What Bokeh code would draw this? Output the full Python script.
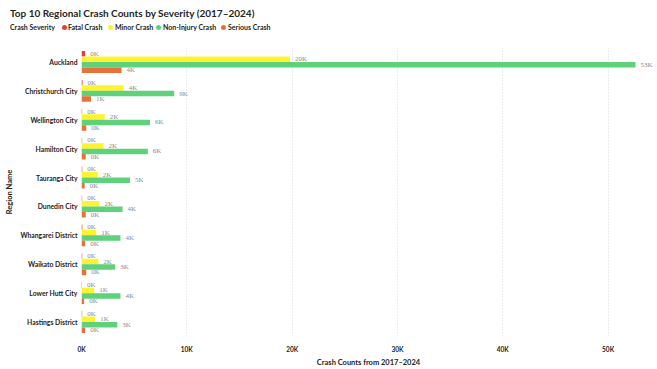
from bokeh.plotting import figure
from bokeh.layouts import column
from bokeh.models import (ColumnDataSource, FactorRange, Range1d, LabelSet, CustomJSTickFormatter, Div)
from bokeh.transform import dodge
from bokeh.embed import file_html
from bokeh.resources import INLINE

title_text = "Top 10 Regional Crash Counts by Severity (2017\u20132024)"
legend_title = "Crash Severity"
regions = ["Auckland", "Christchurch City", "Wellington City", "Hamilton City", "Tauranga City",
           "Dunedin City", "Whangarei District", "Waikato District", "Lower Hutt City", "Hastings District"]
severities = ["Fatal Crash", "Minor Crash", "Non-Injury Crash", "Serious Crash"]
fatal = [350, 100, 60, 60, 70, 60, 80, 70, 50, 60]
minor = [19800, 4000, 2200, 2100, 1550, 1700, 1400, 1600, 1200, 1300]
non_injury = [52600, 8800, 6500, 6300, 4600, 3900, 3700, 3200, 3700, 3400]
serious = [3800, 900, 450, 400, 300, 400, 350, 450, 250, 350]
colors = ["#D9404B", "#FFF22E", "#5ED17A", "#E8703A"]
x_ticks = [0, 10000, 20000, 30000, 40000, 50000]

FONT = "Lato"
DARK = "#252423"
series = [fatal, minor, non_injury, serious]
offsets = [0.284, 0.095, -0.095, -0.284]

FL, FR = 81, 2
W = 657
HH = 47

# ---------- header: title + legend as HTML ----------
dot_left = [62, 108, 156, 221]
label_left = [68, 115, 163, 228]
parts = [f'<div style="position:relative;width:{W}px;height:{HH}px;font-family:{FONT};color:{DARK};">',
         f'<div style="position:absolute;left:10px;top:7px;font-size:10px;line-height:12px;'
         f'font-weight:bold;white-space:nowrap;">{title_text}</div>',
         f'<div style="position:absolute;left:10px;top:23px;font-size:7px;line-height:8px;'
         f'font-weight:bold;white-space:nowrap;">{legend_title}</div>']
for name, col, dl, ll in zip(severities, colors, dot_left, label_left):
    parts.append(f'<div style="position:absolute;left:{dl}px;top:24.5px;width:5px;height:5px;'
                 f'border-radius:50%;background:{col};"></div>')
    parts.append(f'<div style="position:absolute;left:{ll}px;top:23px;font-size:7px;line-height:8px;'
                 f'font-weight:bold;white-space:nowrap;">{name}</div>')
parts.append('</div>')
head = Div(text="".join(parts), width=W, height=HH, margin=0)

# ---------- main chart ----------
p = figure(width=W, height=369 - HH, output_backend="svg", toolbar_location=None,
           y_range=FactorRange(*reversed(regions), range_padding=0),
           x_range=Range1d(0, 54500),
           min_border_left=FL, min_border_right=FR, min_border_top=0, min_border_bottom=32)

for name, vals, off, col in zip(severities, series, offsets, colors):
    src = ColumnDataSource(dict(region=regions, value=vals,
                                label=[f"{round(v/1000):.0f}K" for v in vals]))
    p.hbar(y=dodge("region", off, range=p.y_range), right="value", left=0, height=0.19,
           source=src, color=col, line_color=None)
    lbl = LabelSet(x="value", y=dodge("region", off, range=p.y_range), text="label", source=src,
                   x_offset=5, text_font=FONT, text_font_size="7px", text_color="#8a8a8a",
                   text_baseline="middle")
    p.add_layout(lbl)

p.xaxis.ticker = x_ticks
p.xaxis.formatter = CustomJSTickFormatter(code="return (tick/1000).toFixed(0) + 'K';")
p.xaxis.axis_label = "Crash Counts from 2017\u20132024"
p.yaxis.axis_label = "Region Name"
for ax in (p.xaxis, p.yaxis):
    ax.axis_line_color = None
    ax.major_tick_line_color = None
    ax.minor_tick_line_color = None
    ax.major_tick_out = 0
    ax.major_tick_in = 0
    ax.major_label_text_font = FONT
    ax.major_label_text_font_style = "bold"
    ax.major_label_text_color = DARK
    ax.axis_label_text_font = FONT
    ax.axis_label_text_font_style = "bold"
    ax.axis_label_text_color = DARK
    ax.axis_label_text_font_size = "7.5px"
p.xaxis.major_label_text_font_size = "6.5px"
p.yaxis.major_label_text_font_size = "6.8px"
p.xaxis.major_label_standoff = 9
p.yaxis.major_label_standoff = 4
p.xaxis.axis_label_standoff = 2
p.yaxis.axis_label_standoff = 3

p.ygrid.grid_line_color = None
p.xgrid.grid_line_color = "#d8d8d8"
p.xgrid.grid_line_dash = "1 2"
p.outline_line_color = None

layout = column(head, p, spacing=0)
open("out.html", "w").write(file_html(layout, INLINE))
